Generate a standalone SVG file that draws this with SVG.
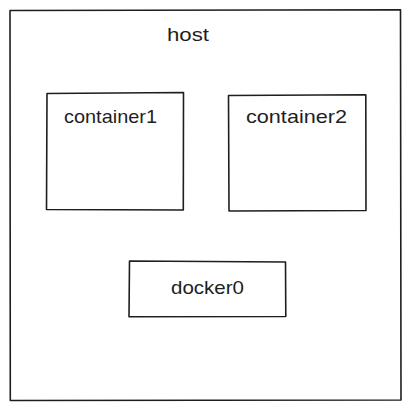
<svg xmlns="http://www.w3.org/2000/svg" width="411" height="411" viewBox="0 0 411 411">
<style>
.box{fill:#ffffff;stroke:#1e1e1e;stroke-width:1.6;stroke-linejoin:round}
.lbl{font-family:"Liberation Sans",Arial,sans-serif;font-size:19px;fill:#1e1e1e}
</style>
<rect x="0" y="0" width="411" height="411" fill="#ffffff"/>
<g id="host">
<path class="box" d="M10,10.5 L400.5,9.8 L401,400 L10.3,400.5 Z"/>
<text class="lbl" x="167" y="41" textLength="42" lengthAdjust="spacingAndGlyphs">host</text>
</g>
<g id="container1">
<path class="box" d="M47,93.5 L183.5,92.5 L183.3,210 L46.5,209.5 Z"/>
<text class="lbl" x="64" y="123" textLength="93" lengthAdjust="spacingAndGlyphs">container1</text>
</g>
<g id="container2">
<path class="box" d="M228.5,95.5 L365.8,94.8 L366,210.5 L229,211 Z"/>
<text class="lbl" x="246" y="123" textLength="101" lengthAdjust="spacingAndGlyphs">container2</text>
</g>
<g id="docker0">
<path class="box" d="M129.5,261 L285.5,262 L285.8,316.5 L129,316.8 Z"/>
<text class="lbl" x="171" y="294" textLength="73" lengthAdjust="spacingAndGlyphs">docker0</text>
</g>
<g id="connectors"></g>
</svg>
